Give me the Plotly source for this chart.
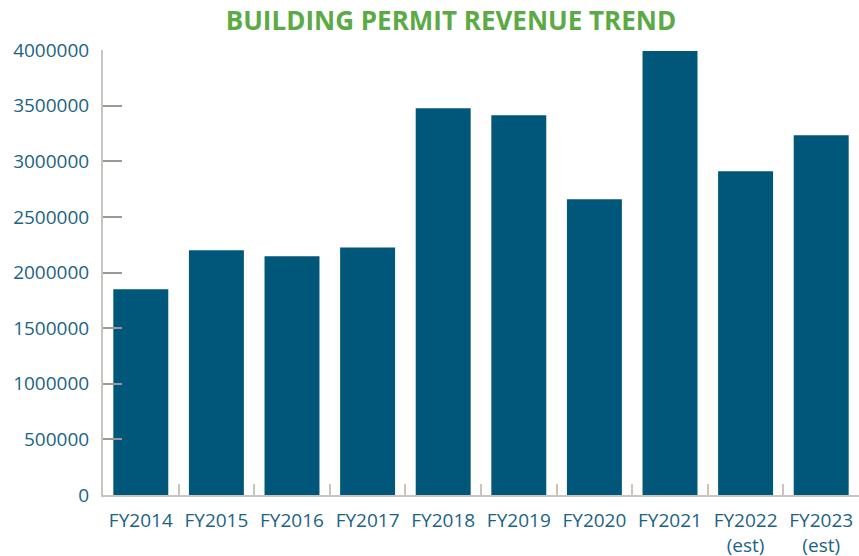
import plotly.graph_objects as go

categories = ["FY2014", "FY2015", "FY2016", "FY2017", "FY2018", "FY2019",
              "FY2020", "FY2021", "FY2022<br>(est)", "FY2023<br>(est)"]
revenue = [1850000, 2200000, 2145000, 2225000, 3477000, 3414000,
           2658000, 3990000, 2910000, 3234000]
y_ticks = [0, 500000, 1000000, 1500000, 2000000, 2500000, 3000000, 3500000, 4000000]

BAR = "#01577A"
TEXT = "#1B6384"
AXIS = "#CBC3BD"
FONT = "Open Sans"

fig = go.Figure(go.Bar(x=categories, y=revenue, marker=dict(color=BAR, line=dict(width=0)),
                       hoverinfo="x+y"))

fig.update_layout(
    width=859, height=556,
    margin=dict(l=103, r=0, t=50, b=61, autoexpand=False),
    paper_bgcolor="white", plot_bgcolor="white",
    bargap=0.273,
    showlegend=False,
    font=dict(family=FONT, color=TEXT, size=19),
    title=dict(text="<b>BUILDING PERMIT REVENUE TREND</b>",
               font=dict(family=FONT, size=26, color="#5BAA45"),
               x=0.525, xref="container", xanchor="center",
               y=1 - 21 / 556, yref="container", yanchor="middle"),
)

fig.update_xaxes(
    type="category", automargin=False,
    showline=True, linecolor=AXIS, linewidth=2,
    ticks="inside", ticklen=11, tickcolor=AXIS, tickwidth=1.5,
    tickson="boundaries",
    showgrid=False, zeroline=False,
    tickfont=dict(family=FONT, size=19, color=TEXT),
    ticklabelstandoff=7,
)

fig.update_yaxes(
    range=[0, 4000000], automargin=False,
    tickvals=y_ticks, ticktext=[str(v) for v in y_ticks],
    showline=True, linecolor=AXIS, linewidth=2,
    ticks="inside", ticklen=19, tickcolor="#9E9793", tickwidth=1.5,
    showgrid=False, zeroline=False,
    tickfont=dict(family=FONT, size=19, color=TEXT),
    ticklabelstandoff=8,
)

fig.write_html("out.html", config={"displayModeBar": False},
               post_script="document.body.style.margin='0';")
